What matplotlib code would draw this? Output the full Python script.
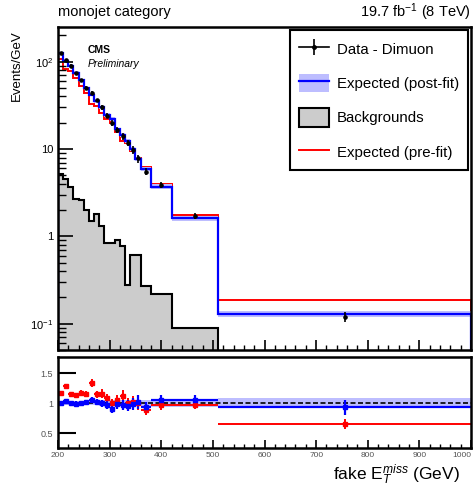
import numpy as np
import matplotlib
matplotlib.use("Agg")
import matplotlib.pyplot as plt
from matplotlib.lines import Line2D
from matplotlib.patches import Patch
from matplotlib.ticker import FixedLocator, MultipleLocator, FixedFormatter, NullFormatter

plt.rcParams['font.family'] = ['Liberation Sans', 'DejaVu Sans']
plt.rcParams['mathtext.fontset'] = 'custom'
plt.rcParams['mathtext.rm'] = 'Liberation Sans'
plt.rcParams['mathtext.it'] = 'Liberation Sans:italic'

# Binning in fake MET (GeV)
bin_edges = [200, 210, 220, 230, 240, 250, 260, 270, 280, 290, 300, 310, 320,
             330, 340, 350, 360, 380, 420, 510, 1000]

# Observed dimuon yields (events / GeV) and their relative uncertainties
data_yield = [125, 105, 90, 74, 61, 50, 44, 36, 30, 24, 20, 16.5, 14, 11.8,
              9.8, 7.8, 5.5, 3.9, 1.7, 0.12]
data_err_rel = [0.03, 0.03, 0.035, 0.04, 0.04, 0.045, 0.05, 0.05, 0.06, 0.065,
                0.07, 0.08, 0.085, 0.09, 0.1, 0.11, 0.09, 0.08, 0.08, 0.13]

# Post-fit expectation and its relative uncertainty
postfit_yield = [125, 101.9, 90, 74.7, 61, 49.5, 41.9, 35.3, 30, 24.7, 22.2,
                 16.8, 14.4, 12.3, 10.0, 7.65, 5.91, 3.71, 1.62, 0.129]
postfit_unc_rel = [0.04, 0.04, 0.04, 0.04, 0.04, 0.04, 0.04, 0.04, 0.045, 0.045,
                   0.045, 0.05, 0.05, 0.05, 0.05, 0.05, 0.055, 0.06, 0.065, 0.08]

# Pre-fit expectation
prefit_yield = [106.8, 82.0, 78.3, 65.5, 52.1, 43.5, 33.1, 31.3, 25.9, 22.2,
                20.0, 15.7, 12.5, 11.8, 9.6, 7.8, 6.25, 4.02, 1.75, 0.185]

# Non-Z backgrounds
background_yield = [5.2, 4.5, 3.7, 2.7, 2.6, 2.0, 1.5, 1.8, 1.3, 0.83, 0.83,
                    0.92, 0.77, 0.28, 0.62, 0.62, 0.27, 0.22, 0.09, 0.0]

edges = np.array(bin_edges, dtype=float)
centers = 0.5 * (edges[1:] + edges[:-1])
half_w = 0.5 * np.diff(edges)
data = np.array(data_yield)
derr = np.array(data_err_rel) * data
post = np.array(postfit_yield)
punc = np.array(postfit_unc_rel)
pre = np.array(prefit_yield)
bkg = np.array(background_yield)

W, H = 477, 490
fig = plt.figure(figsize=(W / 100, H / 100), dpi=100)
left, right = 58 / W, 471 / W
ax = fig.add_axes([left, 1 - 350 / H, right - left, (350 - 27) / H])
axr = fig.add_axes([left, 1 - 448 / H, right - left, (448 - 357) / H])

band_col = (0.74, 0.74, 1.0)
ymin = 0.05

# Backgrounds (filled, outlined)
bkg_draw = np.where(bkg > 0, bkg, 1e-3)
ax.stairs(bkg_draw, edges, baseline=1e-3, fill=True, color='#cccccc', lw=0)
ax.stairs(bkg_draw, edges, baseline=1e-3, color='black', lw=1.5)

# Expectations
ax.stairs(pre, edges, color='red', lw=1.4)
ax.stairs(post * (1 + punc), edges, baseline=post * (1 - punc), fill=True,
          color=band_col, lw=0)
ax.stairs(post, edges, color='blue', lw=1.6)

# Data
ax.errorbar(centers, data, yerr=derr, fmt='o', ms=2.3, color='black',
            elinewidth=1.2, capsize=0)

ax.set_yscale('log')
ax.set_xlim(200, 1000)
ax.set_ylim(ymin, 250)
ax.yaxis.set_major_locator(FixedLocator([0.1, 1, 10, 100]))
ax.yaxis.set_major_formatter(FixedFormatter(['$10^{-1}$', '1', '10', '$10^{2}$']))
ax.yaxis.set_minor_locator(FixedLocator(
    [m * 10.0 ** e for e in range(-2, 3) for m in range(2, 10)]))
ax.yaxis.set_minor_formatter(NullFormatter())
ax.xaxis.set_major_locator(MultipleLocator(100))
ax.xaxis.set_minor_locator(MultipleLocator(20))
ax.xaxis.set_major_formatter(NullFormatter())
ax.tick_params(axis='both', which='both', direction='in', top=False, right=False)
ax.tick_params(axis='y', which='major', length=11, width=1.2, labelsize=8)
ax.tick_params(axis='y', which='minor', length=6, width=1)
ax.tick_params(axis='x', which='major', length=7, width=1.2)
ax.tick_params(axis='x', which='minor', length=3.5, width=1)
for s in ax.spines.values():
    s.set_linewidth(1.8)

# Legend
handles = [
    (Line2D([], [], color='black', lw=1.2),
     Line2D([], [], color='black', marker='|', ms=11, ls='none', mew=1.2),
     Line2D([], [], color='black', marker='o', ms=2.5, ls='none')),
    (Patch(facecolor=band_col, edgecolor='none'),
     Line2D([], [], color='blue', lw=1.6)),
    Patch(facecolor='#cccccc', edgecolor='black', lw=1.5),
    Line2D([], [], color='red', lw=1.4),
]
labels = ['Data - Dimuon', 'Expected (post-fit)', 'Backgrounds',
          'Expected (pre-fit)']
leg = ax.legend(handles, labels, loc='upper right', bbox_to_anchor=(0.993, 0.99),
                borderaxespad=0, fontsize=10.8, frameon=True, fancybox=False,
                edgecolor='black', framealpha=1, handlelength=2.0,
                handleheight=1.5, labelspacing=1.07, borderpad=0.62,
                handletextpad=0.5)
leg.get_frame().set_linewidth(1.5)

# Ratio panel
axr.stairs(1 + punc, edges, baseline=1 - punc, fill=True, color=band_col, lw=0)
axr.axhline(1, color='black', lw=1.2, ls=(0, (3, 1.5)))
r_pre = data / pre
r_post = data / post
axr.errorbar(centers, r_pre, xerr=half_w, yerr=r_pre * np.array(data_err_rel),
             fmt='s', ms=2.3, color='red', elinewidth=1.4, capsize=0)
axr.errorbar(centers, r_post, xerr=half_w, yerr=r_post * np.array(data_err_rel),
             fmt='s', ms=2.3, color='blue', elinewidth=1.6, capsize=0)
axr.set_xlim(200, 1000)
axr.set_ylim(0.25, 1.77)
axr.yaxis.set_major_locator(FixedLocator([0.5, 1.0, 1.5]))
axr.yaxis.set_major_formatter(FixedFormatter(['0.5', '1', '1.5']))
axr.xaxis.set_major_locator(MultipleLocator(100))
axr.xaxis.set_minor_locator(MultipleLocator(20))
axr.tick_params(axis='both', which='both', direction='in', top=False, right=False)
axr.tick_params(axis='y', which='major', length=13, width=1.5, labelsize=6.5,
                labelcolor='#555555')
axr.tick_params(axis='x', which='major', length=6, width=1.2, labelsize=6,
                labelcolor='#555555', pad=3)
axr.tick_params(axis='x', which='minor', length=3, width=1)
for s in axr.spines.values():
    s.set_linewidth(1.8)
# keep the last tick label inside the canvas
fig.canvas.draw()
for lab in axr.get_xticklabels():
    if lab.get_text() == '1000':
        lab.set_horizontalalignment('right')

# Annotations
fig.text(58 / W, 1 - 12 / H, 'monojet category', ha='left', va='center',
         fontsize=10.5)
fig.text(471 / W, 1 - 12 / H, '19.7 fb$^{-1}$ (8 TeV)', ha='right', va='center',
         fontsize=10.5)
fig.text(88 / W, 1 - 50 / H, 'CMS', ha='left', va='center', fontsize=7.5,
         fontweight='bold')
fig.text(88 / W, 1 - 64 / H, 'Preliminary', ha='left', va='center', fontsize=7.5,
         style='italic')
fig.text(17 / W, 1 - 30 / H, 'Events/GeV', rotation=90, ha='center', va='top',
         fontsize=9.5)
fig.text(460 / W, 1 - 475 / H, 'fake E$_{T}^{miss}$ (GeV)', ha='right',
         va='center', fontsize=12.5)

fig.savefig('out.png', dpi=100)
